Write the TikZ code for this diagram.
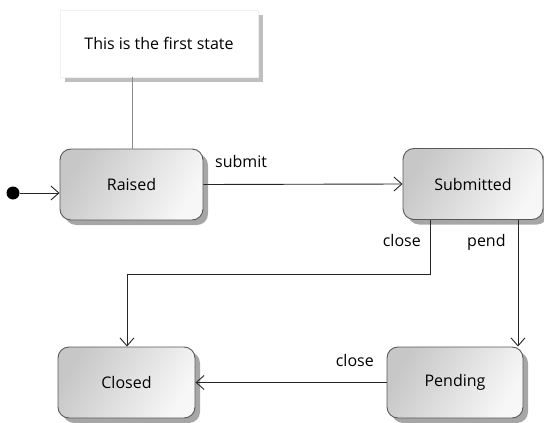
\documentclass[tikz,border=0pt]{standalone}
\usepackage{fontspec}
\setmainfont{Open Sans}
\usetikzlibrary{shadows,arrows.meta}
\begin{document}
\begin{tikzpicture}[x=1pt,y=-1pt,
  state/.style={draw=black!65, line width=0.9pt, rounded corners=11pt,
    left color=black!22, right color=black!3, shading angle=60,
    minimum width=#1, minimum height=71pt, inner sep=0pt,
    font=\fontsize{16}{18}\selectfont,
    drop shadow={shadow xshift=5pt, shadow yshift=-5pt, fill=black!35, opacity=1}},
  state/.default=142pt,
  conn/.style={draw=black!85, line width=0.9pt},
  arr/.style={conn, -{Straight Barb[length=8pt,width=14pt,line width=0.9pt]}},
  lbl/.style={font=\fontsize{16}{18}\selectfont, inner sep=0pt}
]
\useasboundingbox (0,0) rectangle (544,423);
% note
\node[fill=white, draw=black!6, minimum width=198pt, minimum height=67pt, inner sep=0pt,
  font=\fontsize{16}{18}\selectfont,
  drop shadow={shadow xshift=5pt, shadow yshift=-5pt, fill=black!25, opacity=1}]
  (note) at (159,43.5) {This is the first state};
% states
\node[state=143pt] (raised) at (131.5,184.5) {Raised};
\node[state=140pt] (sub) at (473,184) {Submitted};
\node[state=137pt] (closed) at (126.5,382.5) {Closed};
\node[state=136pt] (pend) at (455,382.5) {Pending};
% initial
\fill[black] (13,193) circle (6.5pt);
\node[inner sep=0pt, minimum size=13pt, circle] (init) at (13,193) {};
% note link
\draw[draw=black!45, line width=0.8pt] (note.south -| 132,0) -- (raised.north -| 132,0);
% transitions
\draw[arr] (init.east) -- (raised.west |- 0,193);
\draw[arr] (raised.east) -- (sub.west);
\node[lbl, anchor=base west] (lsubmit) at (215,167) {submit};
\draw[arr] (sub.south -| 430,0) |- (127,274) -- (closed.north -| 127,0);
\node[lbl, anchor=base east] (lclose1) at (421,246) {close};
\draw[arr] (sub.south -| 518,0) -- (pend.north -| 518,0);
\node[lbl, anchor=base west] (lpend) at (467,246) {pend};
\draw[arr] (pend.west) -- (closed.east);
\node[lbl, anchor=base east] (lclose2) at (374,366) {close};
\end{tikzpicture}
\end{document}
